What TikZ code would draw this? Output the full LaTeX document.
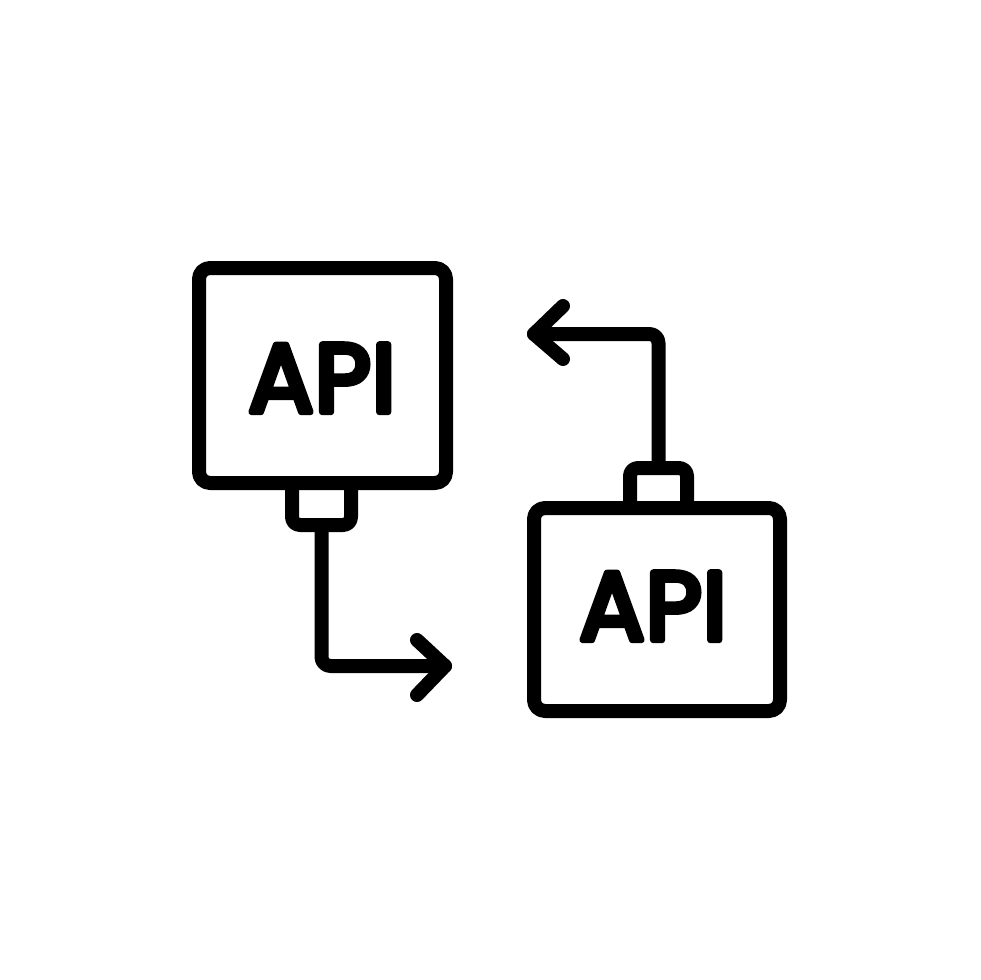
\documentclass[tikz,border=0pt]{standalone}
\usepackage{fontspec}
\setmainfont[FakeBold=6.5,LetterSpace=1]{Poppins}
\newcommand{\roundtext}{\special{pdf:code 1 J 1 j}}
\tikzset{
  ink/.style={line width=14pt,draw=black,line join=round,line cap=round},
  apibox/.style={ink,rectangle,rounded corners=11pt,fill=white,inner sep=0pt,outer sep=0pt,line cap=butt},
  plug/.style={ink,rectangle,rounded corners=8pt,fill=white,inner sep=0pt,outer sep=0pt},
  wire/.style={ink,rounded corners=9pt},
  tip/.style={ink},
  apilabel/.style={inner sep=0pt,outer sep=0pt,text=black,font=\fontsize{97}{97}\selectfont}
}
\begin{document}
\begin{tikzpicture}[x=1pt,y=-1pt]
\useasboundingbox[fill=white] (0,0) rectangle (980,980);
\node[plug,minimum width=59pt,minimum height=70pt] (plugA) at (321.5,490) {};
\node[apibox,minimum width=247pt,minimum height=215pt] (boxA) at (322.5,375.5) {};
\node[plug,minimum width=57pt,minimum height=72pt] (plugB) at (658.5,504) {};
\node[apibox,minimum width=246pt,minimum height=203pt] (boxB) at (657,609.5) {};
\node[apilabel,anchor=base] (textA) at (322,412) {\roundtext API};
\node[apilabel,anchor=base] (textB) at (653,640) {\roundtext API};
\coordinate (endA) at (445,666);
\coordinate (endB) at (534,334);
\coordinate (wingA1) at (417,640);
\coordinate (wingA2) at (417,695);
\coordinate (wingB1) at (563,306);
\coordinate (wingB2) at (563,359);
\draw[wire] (plugA.south) -- (plugA.south |- endA) -- (endA);
\draw[wire] (plugB.north) -- (plugB.north |- endB) -- (endB);
\draw[tip] (wingA1) -- (endA) -- (wingA2);
\draw[tip] (wingB1) -- (endB) -- (wingB2);
\end{tikzpicture}
\end{document}
